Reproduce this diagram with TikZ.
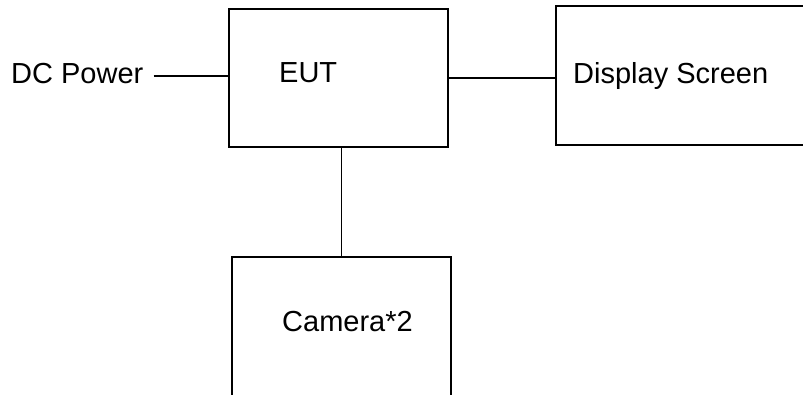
\documentclass[tikz,border=0pt]{standalone}
\usepackage{fontspec}
\setmainfont{Liberation Sans}
\usetikzlibrary{positioning}

\begin{document}
\begin{tikzpicture}[
    x=1bp, y=-1bp,
    unit/.style={rectangle, draw, line width=1.6bp, anchor=north west, inner sep=0pt},
    lbl/.style={font=\fontsize{29bp}{34bp}\selectfont, inner sep=0pt, anchor=base west},
    wire/.style={line width=1.6bp}
]

% page frame
\clip (0,0) rectangle (803,394);

% ------------------ Boxes ------------------
\node[unit, minimum width=219bp, minimum height=138bp] (eut) at (228,8) {};
\node[unit, minimum width=280bp, minimum height=139bp] (display) at (555,5) {};
\node[unit, minimum width=219bp, minimum height=170bp] (camera) at (231,256) {};

% ------------------ Labels ------------------
\node[lbl] (dcpower) at (11,83) {DC Power};
\node[lbl] (eutlabel) at (279,82) {EUT};
\node[lbl] (displaylabel) at (573,83) {Display Screen};
\node[lbl] (cameralabel) at (282,331) {Camera*2};

% ------------------ Wires ------------------
\draw[wire] ([xshift=10bp,yshift=-3bp]dcpower.east) -- ([yshift=-3bp]dcpower.east -| eut.west);
\draw[wire] (eut.east) -- (eut.east -| display.west);
\draw[wire] (camera.north |- eut.south) -- (camera.north);

\end{tikzpicture}
\end{document}
